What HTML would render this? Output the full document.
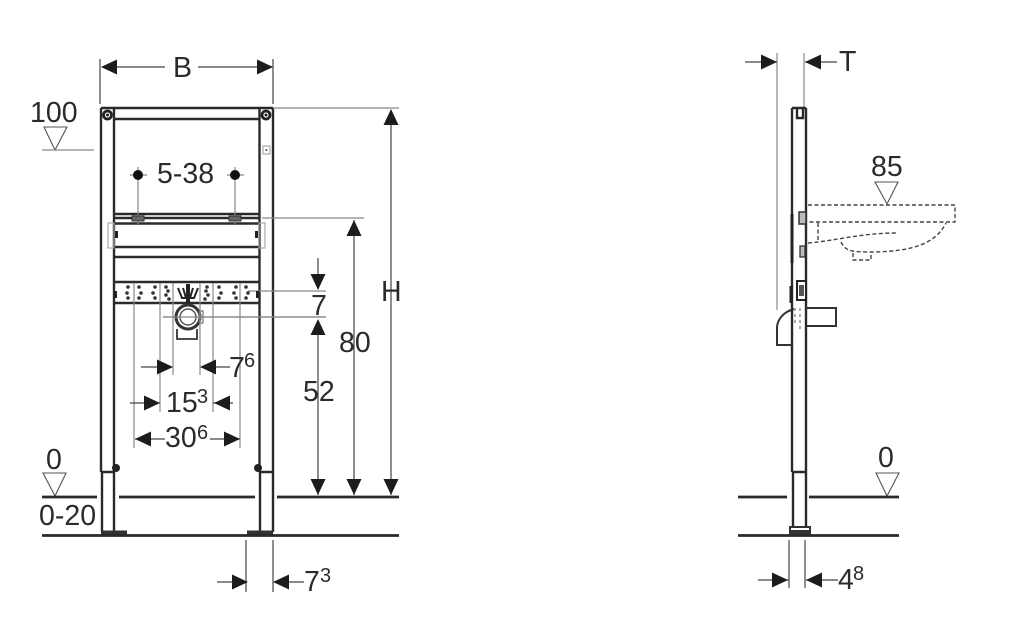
<!DOCTYPE html>
<html><head><meta charset="utf-8"><style>
html,body{margin:0;padding:0;background:#fff}
svg{display:block;filter:blur(0.35px)}
text{font-family:"Liberation Sans",sans-serif;font-size:28.5px;fill:#2b2b2b}
.s{font-size:20px}
.d{stroke:#444;stroke-width:1.2;fill:none}
.g{stroke:#888;stroke-width:1.2;fill:none}
.k{stroke:#2a2a2a;stroke-width:2.4;fill:none}
.f{stroke:#2a2a2a;stroke-width:2.8;fill:none}
.t{stroke:#555;stroke-width:1.1;fill:#fff}
.h{stroke:#444;stroke-width:1.4;fill:none;stroke-dasharray:4 2.5}
.a{fill:#1c1c1c}
</style></head><body>
<svg width="1024" height="630" viewBox="0 0 1024 630" xmlns="http://www.w3.org/2000/svg">
<defs>
<path id="r" class="a" d="M0 0L-16 -7.500V7.500Z"/>
<path id="l" class="a" d="M0 0L16 -7.500V7.500Z"/>
<path id="u" class="a" d="M0 0L-7.500 16H7.500Z"/>
<path id="n" class="a" d="M0 0L-7.500 -16H7.500Z"/>
</defs>

<!-- front frame -->
<g class="k">
<path d="M101 108H273M101 108V472M114 108V472M259.500 108V472M273 108V472M114 119H259.500"/>
<path d="M101 472H114M260 472H273M102 472V532M114 472V532M260 472V532M273 472V532"/>
<path d="M114 214H259M114 218H259M114 223.500H259M114 247H259M114 257H259M114 282H259M114 303H259"/>
</g>
<rect x="101" y="530.500" width="26" height="4.500" fill="#333"/>
<rect x="247" y="530.500" width="26" height="4.500" fill="#333"/>
<circle cx="116" cy="468" r="4" fill="#222"/><circle cx="258" cy="468" r="4" fill="#222"/>
<circle cx="107.500" cy="115" r="4" fill="none" stroke="#222" stroke-width="2.800"/><circle cx="107.500" cy="115" r="1.500" fill="#222"/>
<circle cx="266" cy="115" r="4" fill="none" stroke="#222" stroke-width="2.800"/><circle cx="266" cy="115" r="1.500" fill="#222"/>
<rect x="263" y="146" width="7" height="8" fill="none" stroke="#999"/>
<circle cx="266.500" cy="150" r="1" fill="#444"/>
<!-- fixing points -->
<g class="g">
<path d="M130 175H147M138 167V224M227 175H244M235 167V224"/>
<path d="M262 218H364M273 108H399M248 291H326M163 317H326"/>
<rect x="108" y="223" width="6" height="25" stroke="#aaa"/>
<rect x="259" y="223" width="6" height="25" stroke="#aaa"/>
</g>
<circle cx="138" cy="175" r="5" fill="#111"/><circle cx="235" cy="175" r="5" fill="#111"/>
<rect x="132" y="216" width="12" height="5" fill="#666" stroke="#333"/>
<rect x="229" y="216" width="12" height="5" fill="#666" stroke="#333"/>
<rect x="115" y="231" width="3" height="7" fill="#222"/><rect x="255" y="231" width="3" height="7" fill="#222"/>
<rect x="114" y="291" width="3" height="7" fill="#222"/><rect x="256" y="291" width="3" height="7" fill="#222"/>
<!-- hole pattern -->
<g fill="#333">
<circle cx="128" cy="287" r="1.800"/><circle cx="127" cy="293" r="1.800"/><circle cx="128" cy="298" r="1.800"/><circle cx="139" cy="287" r="1.800"/><circle cx="141" cy="293" r="1.800"/><circle cx="139" cy="298" r="1.800"/>
<circle cx="155" cy="287" r="1.800"/><circle cx="153" cy="293" r="1.800"/><circle cx="155" cy="298" r="1.800"/><circle cx="166" cy="287" r="1.800"/><circle cx="168" cy="291" r="1.800"/><circle cx="166" cy="295" r="1.800"/><circle cx="169" cy="299" r="1.800"/>
<circle cx="207" cy="287" r="1.800"/><circle cx="206" cy="291" r="1.800"/><circle cx="208" cy="295" r="1.800"/><circle cx="205" cy="299" r="1.800"/><circle cx="219" cy="287" r="1.800"/><circle cx="221" cy="293" r="1.800"/><circle cx="219" cy="298" r="1.800"/>
<circle cx="236" cy="287" r="1.800"/><circle cx="234" cy="293" r="1.800"/><circle cx="236" cy="298" r="1.800"/><circle cx="246" cy="287" r="1.800"/><circle cx="248" cy="293" r="1.800"/><circle cx="246" cy="298" r="1.800"/>
</g>
<path d="M178 288L182 298H194L198 288M183 288L186 298M193 288L190 298M187 285H189V302H187Z" fill="none" stroke="#222" stroke-width="2"/>
<circle cx="188" cy="317" r="12" fill="#fff" stroke="#333" stroke-width="3"/>
<circle cx="188" cy="317" r="8" fill="#fff" stroke="#555" stroke-width="1.500"/>
<path d="M177 329V339H197V329" fill="none" stroke="#333" stroke-width="1.800"/>
<rect x="199" y="311" width="4" height="12" fill="none" stroke="#555"/>
<path class="g" d="M163 317H326"/>
<path class="g" d="M134 283V448M240 283V448M160 283V412M213 283V412M173 283V375M200 283V375"/>

<!-- front dims -->
<g class="d">
<path d="M100 59V104M273 59V104M102 67H165M198 67H272M391 110V495M354 220V495M318 258V289M318 320V495"/>
<path d="M141 367H172M201 367H230M130 403H160M213 403H233M135 439H165M210 439H240"/>
<path d="M246 540V592M273 540V592M217 582H246M274 582H304"/>
</g>
<use href="#l" x="101" y="67"/><use href="#r" x="273" y="67"/>
<use href="#u" x="391" y="109"/><use href="#n" x="391" y="495"/>
<use href="#u" x="354" y="220"/><use href="#n" x="354" y="495"/>
<use href="#n" x="318" y="290"/><use href="#u" x="318" y="319"/><use href="#n" x="318" y="495"/>
<use href="#r" x="173" y="367"/><use href="#l" x="200" y="367"/>
<use href="#r" x="160" y="403"/><use href="#l" x="214" y="403"/>
<use href="#l" x="135" y="439"/><use href="#r" x="240" y="439"/>
<use href="#r" x="248" y="582"/><use href="#l" x="273" y="582"/>

<text x="173" y="77">B</text>
<text x="157" y="183">5-38</text>
<text x="381" y="301">H</text>
<text x="311" y="315">7</text>
<text x="339" y="352">80</text>
<text x="303" y="401">52</text>
<text x="229" y="377">7</text><text class="s" x="244" y="367">6</text>
<text x="166" y="412">15</text><text class="s" x="197" y="403">3</text>
<text x="165" y="447">30</text><text class="s" x="197" y="439">6</text>
<text x="304" y="591">7</text><text class="s" x="320" y="582">3</text>

<!-- levels left -->
<text x="30" y="122">100</text>
<path class="t" d="M44 127H67L55 150Z"/>
<path class="g" d="M42 150H94"/>
<text x="46" y="469">0</text>
<path class="t" d="M43 473H66L55 496Z"/>
<text x="39" y="525">0-20</text>
<path class="f" d="M42 497H97M119 497H255M277 497H399M42 535.500H399"/>

<!-- side view -->
<path class="g" d="M777 53V310M804 53V108"/>
<g class="k">
<path d="M792 108H806M792 108V472M806 108V472M792 472H806M793 472V528M806 472V528"/>
<path d="M797 109V118H803V109"/>
</g>
<path d="M792 214V263M791 286V303" stroke="#222" stroke-width="3" fill="none"/>
<rect x="790" y="527" width="20" height="7" fill="none" stroke="#333" stroke-width="2"/>
<rect x="791" y="530" width="18" height="4" fill="#333"/>
<rect x="797" y="281" width="9" height="19" fill="#fff" stroke="#222" stroke-width="2"/>
<rect x="799" y="285" width="5" height="11" fill="#555"/>
<path d="M806 308H836V326H806" fill="none" stroke="#333" stroke-width="2"/>
<path d="M794 309C783 312 777 320 777 328V345H793" fill="none" stroke="#333" stroke-width="2"/>
<path d="M795 308V326M800 308V330" stroke="#777" stroke-width="1.200" stroke-dasharray="3 3" fill="none"/>
<rect x="799" y="212" width="7" height="12" fill="#bbb" stroke="#333" stroke-width="1.500"/>
<rect x="800" y="246" width="5" height="11" fill="#bbb" stroke="#333" stroke-width="1.300"/>
<path class="h" d="M808 205H955V222H808M818 223V241M808 243C835 241 860 233 897 233M841 242C846 252 852 252 875 252C910 251 935 245 946 223M853 253V260H871V253"/>
<text x="871" y="176">85</text>
<path class="t" d="M875 182H898L887 204Z"/>
<text x="878" y="467">0</text>
<path class="t" d="M876 473H899L887 496Z"/>
<path class="f" d="M738 497H787M809 497H899M738 535.500H899"/>
<path class="d" d="M789 540V588M805 540V588M758 580H789M806 580H838M745 62H777M805 62H837"/>
<use href="#r" x="788" y="580"/><use href="#l" x="806" y="580"/>
<use href="#r" x="777" y="62"/><use href="#l" x="805" y="62"/>
<text x="839" y="71">T</text>
<text x="838" y="589">4</text><text class="s" x="853" y="580">8</text>
</svg>
</body></html>
